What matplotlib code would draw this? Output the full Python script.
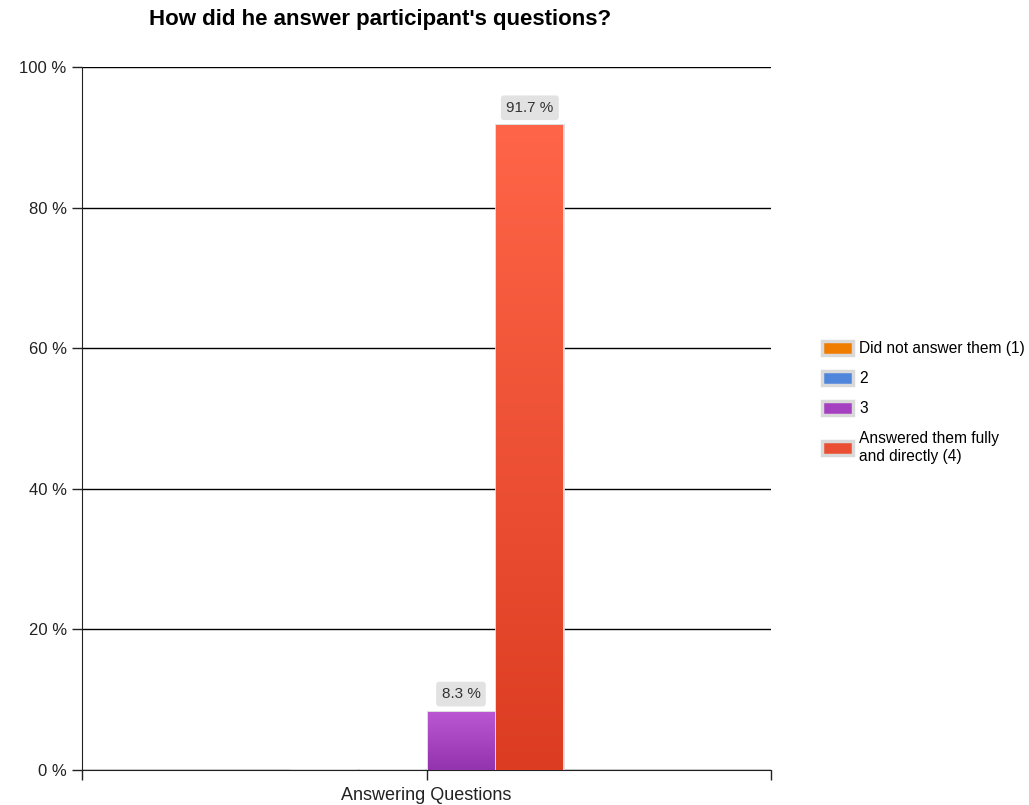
import numpy as np
import matplotlib
matplotlib.use("Agg")
from matplotlib import pyplot as plt
from matplotlib.patches import Patch
from matplotlib.colors import LinearSegmentedColormap

plt.rcParams['font.family'] = ['Liberation Sans', 'DejaVu Sans']

category = "Answering Questions"
series = ["Did not answer them (1)", "2", "3", "Answered them fully\nand directly (4)"]
values = [0.0, 0.0, 8.3, 91.7]
colors = ["#f07c00", "#4f86dc", "#a540c0", "#ea4f34"]
grad_top = ["#ff9020", "#6a9cec", "#bb57d2", "#ff6548"]
grad_bot = ["#e06e00", "#3f74cc", "#9433ae", "#dc3d22"]

fig = plt.figure(figsize=(10.29, 8.05), dpi=100)
ax = fig.add_axes([82 / 1029, 1 - 770 / 805, 689 / 1029, 703 / 805])

width = 0.2
offsets = (np.arange(len(series)) - 1.5) * width
for i, (name, v) in enumerate(zip(series, values)):
    bar = ax.bar(offsets[i], v, width=width * 0.97, color=colors[i],
                 edgecolor="#d9d9d9", linewidth=2, zorder=3)[0]
    if v > 0:
        cmap = LinearSegmentedColormap.from_list("g", [grad_bot[i], grad_top[i]])
        grad = np.linspace(0, 1, 256).reshape(-1, 1)
        x0 = offsets[i] - width * 0.97 / 2
        im = ax.imshow(grad, cmap=cmap, aspect="auto", origin="lower",
                       extent=[x0, x0 + width * 0.97, 0, v], zorder=3.5)
        im.set_clip_path(bar)
        ax.text(offsets[i], v + 2.5, f"{v:.1f} %", ha="center", va="center",
                fontsize=11, color="#333333", zorder=5,
                bbox=dict(boxstyle="round,pad=0.35,rounding_size=0.2",
                          fc="#e2e2e2", ec="none"))

ax.set_xlim(-1, 1)
ax.set_ylim(0, 100)
ax.set_yticks(np.arange(0, 101, 20))
ax.set_yticklabels([f"{t} %" for t in range(0, 101, 20)], fontsize=12, color="#222222")
ax.set_xticks([-1, 0, 1])
ax.set_xticklabels(["", category, ""], fontsize=13, color="#222222")
ax.tick_params(axis="both", length=7, width=1, color="#222222")
ax.tick_params(axis="y", pad=4)
ax.tick_params(axis="x", pad=5)
ax.grid(axis="y", color="black", linewidth=1, zorder=0)
ax.set_axisbelow(True)
for s in ["top", "right"]:
    ax.spines[s].set_visible(False)
for s in ["left", "bottom"]:
    ax.spines[s].set_color("#222222")

fig.text(380 / 1029, 1 - 20 / 805, "How did he answer participant's questions?",
         ha="center", va="center", fontsize=16, fontweight="bold")

handles = [Patch(facecolor=c, edgecolor="#d9d9d9", linewidth=2.5) for c in colors]
fig.legend(handles, series, loc="upper left", bbox_to_anchor=(808 / 1029, 1 - 327 / 805),
           frameon=False, fontsize=11.2, handlelength=2.0, handleheight=1.0,
           labelspacing=0.95, handletextpad=0.4)

fig.savefig("out.png", dpi=100)
